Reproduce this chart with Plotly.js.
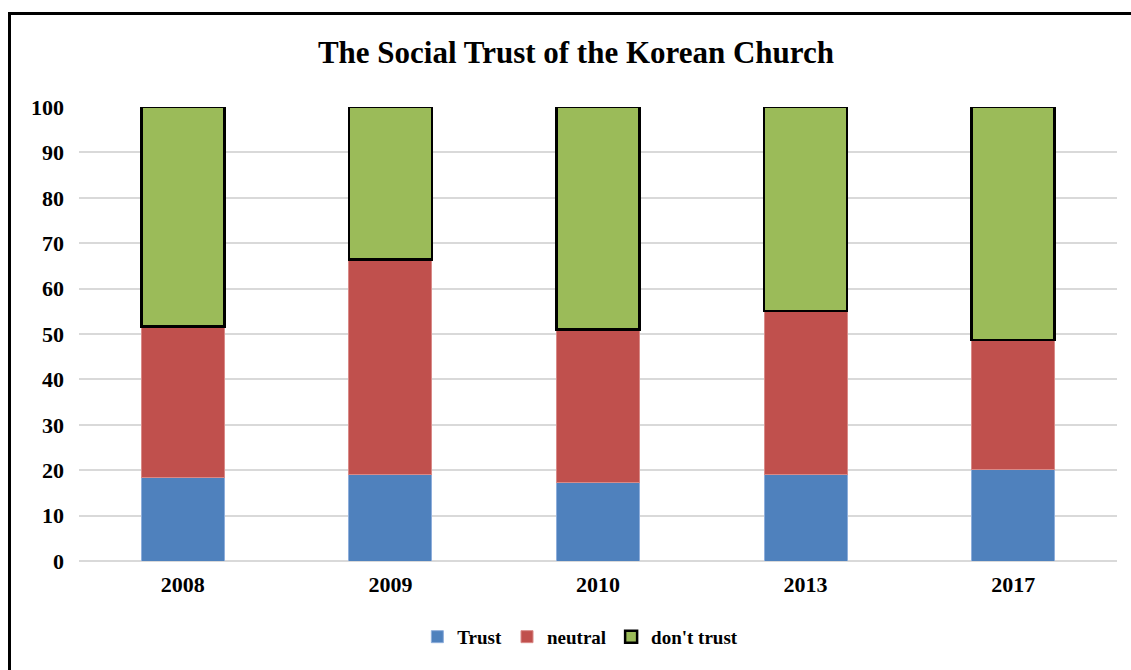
<!DOCTYPE html>
<html>
<head>
<meta charset="utf-8">
<script src="https://cdn.plot.ly/plotly-3.0.1.min.js"></script>
<style>
  html, body { margin: 0; padding: 0; background: #fff; }
  #wrap { position: relative; width: 1131px; height: 670px; }
  #chart { position: absolute; left: 0; top: 0; width: 1131px; height: 670px; }
  #frame { position: absolute; left: 8px; top: 12px; width: 1123px; height: 658px;
           border-left: 3px solid #000; border-top: 3px solid #000; pointer-events: none; box-sizing: border-box; }
</style>
</head>
<body>
<div id="wrap">
  <div id="chart"></div>
  <div id="frame"></div>
</div>
<script>
const years = ['2008', '2009', '2010', '2013', '2017'];
const trust = [18.5, 19.0, 17.2, 19.0, 20.1];
const neutral = [33.1, 47.4, 33.8, 36.1, 28.6];
const dontTrust = [48.4, 33.6, 49.0, 44.9, 51.3];
const seriesNames = ['Trust', 'neutral', "don't trust"];
const yTicks = [0, 10, 20, 30, 40, 50, 60, 70, 80, 90, 100];

const font = 'Liberation Serif, Times New Roman, serif';

const traces = [
  { type: 'bar', name: seriesNames[0], x: years, y: trust,
    marker: { color: '#4F81BD', line: { color: '#8eaedb', width: 1 } } },
  { type: 'bar', name: seriesNames[1], x: years, y: neutral,
    marker: { color: '#C0504D', line: { color: '#d98a88', width: 1 } } },
  { type: 'bar', name: seriesNames[2], x: years, y: dontTrust,
    marker: { color: '#9BBB59', line: { color: '#000000', width: 2.5 } } }
];

const layout = {
  width: 1131, height: 670,
  barmode: 'stack',
  bargap: 0.6,
  paper_bgcolor: '#ffffff',
  plot_bgcolor: '#ffffff',
  margin: { l: 79, r: 14, t: 107, b: 109 },
  title: {
    text: '<b>The Social Trust of the Korean Church</b>',
    font: { family: font, size: 31, color: '#000' },
    x: 576 / 1131, xref: 'container', xanchor: 'center',
    y: 1 - 52 / 670, yref: 'container', yanchor: 'middle'
  },
  xaxis: {
    type: 'category',
    tickfont: { family: font, size: 22, color: '#000', weight: 'bold' },
    showgrid: false, zeroline: false, showline: false,
    ticks: '', ticklabelstandoff: 8
  },
  yaxis: {
    range: [0, 100],
    tickvals: yTicks,
    ticktext: yTicks.map(String),
    tickfont: { family: font, size: 22, color: '#000', weight: 'bold' },
    showgrid: true, gridcolor: '#d9d9d9', gridwidth: 2,
    zeroline: true, zerolinecolor: '#d9d9d9', zerolinewidth: 2,
    showline: false, ticks: '', ticklabelstandoff: 14
  },
  legend: {
    orientation: 'h',
    traceorder: 'normal',
    x: 0.483, xanchor: 'center',
    y: -0.167, yanchor: 'middle',
    font: { family: font, size: 19, color: '#000', weight: 'bold' },
    itemwidth: 30, tracegroupgap: 0
  },
  showlegend: true
};

Plotly.newPlot('chart', traces, layout, { displayModeBar: false, staticPlot: true });
</script>
</body>
</html>
